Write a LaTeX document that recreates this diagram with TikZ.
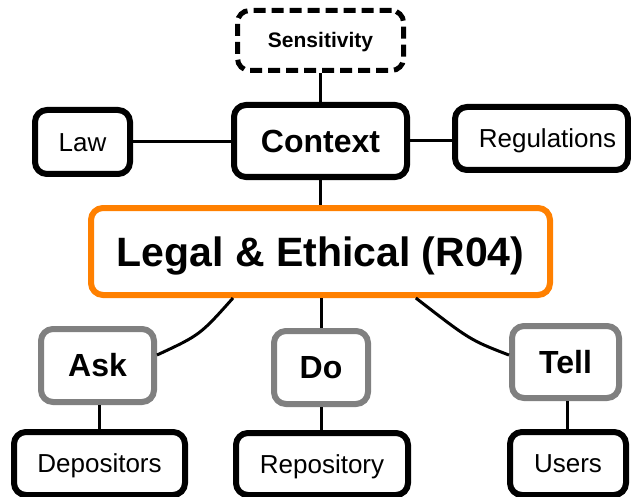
\documentclass[tikz,border=0pt]{standalone}
\usepackage{fontspec}
\setmainfont{Liberation Sans}
\definecolor{accent}{HTML}{FF8000}
\definecolor{midgray}{HTML}{808080}
\begin{document}
\begin{tikzpicture}[x=1pt,y=-1pt,
  box/.style={draw, rounded corners=12pt, fill=white, inner sep=0pt},
  blackbox/.style={box, line width=6pt},
  graybox/.style={box, draw=midgray, line width=6pt},
  mainbox/.style={box, draw=accent, line width=6pt},
  dashbox/.style={box, line width=5pt, dash pattern=on 12pt off 6pt},
  huge/.style={font=\fontsize{41}{41}\selectfont\bfseries, text height=29.4pt, text depth=0pt},
  head/.style={font=\fontsize{32}{32}\selectfont\bfseries, text height=22.9pt, text depth=0pt},
  tag/.style={font=\fontsize{21}{21}\selectfont\bfseries, text height=15pt, text depth=0pt},
  plain/.style={font=\fontsize{26}{26}\selectfont, text height=18.6pt, text depth=0pt},
  link/.style={line width=3pt}]
\useasboundingbox (0,0) rectangle (631,497);

% top row
\node[dashbox, tag, minimum width=166pt, minimum height=60pt] (sens) at (320.5,40.5) {Sensitivity};
\node[blackbox, head, minimum width=173pt, minimum height=72pt] (ctx) at (320.5,141) {Context};
\node[blackbox, plain, minimum width=95pt, minimum height=64pt] (law) at (82.5,142) {Law};
\node[blackbox, minimum width=173pt, minimum height=63pt] (reg) at (541.5,138.5) {};
\node[plain, inner sep=0pt] (regtext) at (547.5,138.5) {Regulations};

% central box
\node[mainbox, huge, minimum width=459pt, minimum height=87pt] (legal) at (320.5,251.5) {Legal \& Ethical (R04)};

% middle row
\node[graybox, head, minimum width=113pt, minimum height=73pt] (ask) at (97.5,365.5) {Ask};
\node[graybox, head, minimum width=94pt, minimum height=73pt] (do) at (321,367.5) {Do};
\node[graybox, head, minimum width=107pt, minimum height=72pt] (tell) at (565.5,362) {Tell};

% bottom row
\node[blackbox, plain, minimum width=171pt, minimum height=63pt] (dep) at (99.5,463.5) {Depositors};
\node[blackbox, plain, minimum width=172pt, minimum height=62pt] (repo) at (322,464) {Repository};
\node[blackbox, plain, minimum width=116pt, minimum height=63pt] (users) at (568,463.5) {Users};

% connectors between box borders
\draw[link] (sens.south) -- (ctx.north);
\draw[link] (law.east) -- (law.east -| ctx.west);
\draw[link] (ctx.east) -- (ctx.east -| reg.west);
\draw[link] (ctx.south) -- (legal.north);
\draw[link] (legal.south -| do.north) -- (do.north);
\draw[link] (do.south) -- (do.south |- repo.north);
\draw[link] ([xshift=1.5pt]ask.south) -- ([xshift=1.5pt]ask.south |- dep.north);
\draw[link] ([xshift=1.5pt]tell.south) -- ([xshift=1.5pt]tell.south |- users.north);
\draw[link] (legal.208) .. controls (200,335) .. (ask.10);
\draw[link] (legal.334.5) .. controls (470,340) .. (tell.173);
\end{tikzpicture}
\end{document}
